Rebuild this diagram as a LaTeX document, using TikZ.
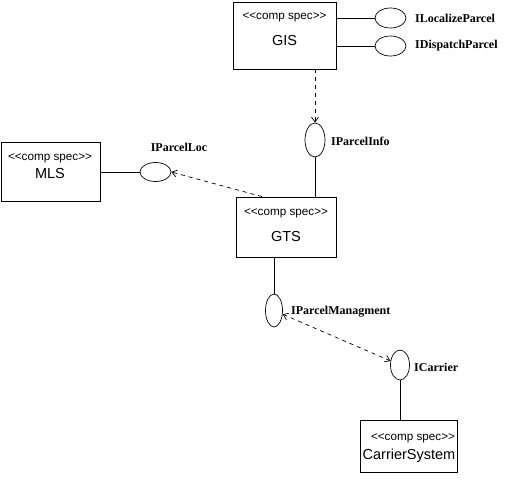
\documentclass[tikz,border=0pt]{standalone}
\usepackage{fontspec}
\setsansfont{Liberation Sans}
\newfontfamily\lblfont{Liberation Serif}
\usetikzlibrary{shapes.geometric,arrows.meta}
\begin{document}
\begin{tikzpicture}[x=1pt,y=-1pt,
  comp/.style={draw,rectangle,inner sep=0pt,line width=0.8pt},
  stereo/.style={font=\sffamily\fontsize{11.7}{13}\selectfont,inner sep=0pt},
  cname/.style={font=\sffamily\fontsize{14.5}{16}\selectfont,inner sep=0pt},
  iface/.style={draw,ellipse,inner sep=0pt,line width=0.7pt},
  ilabel/.style={font=\lblfont\bfseries\fontsize{12}{14}\selectfont,inner sep=0pt},
  conn/.style={line width=0.7pt},
  dep/.style={line width=0.7pt,dash pattern=on 4pt off 4pt,-{Straight Barb[length=5pt,width=7pt]}},
  depboth/.style={line width=0.7pt,dash pattern=on 4pt off 4pt,{Straight Barb[length=5pt,width=7pt]}-{Straight Barb[length=5pt,width=7pt]}}
]
\useasboundingbox (0,0) rectangle (506,482);
% GIS
\node[comp,minimum width=103pt,minimum height=67pt] (GIS) at (284.5,35.5) {};
\node[stereo] (GISs) at (284.5,17) {<{}<comp spec>{}>};
\node[cname] (GISn) at (284.5,41) {GIS};
% GTS
\node[comp,minimum width=100pt,minimum height=60pt] (GTS) at (286,227) {};
\node[stereo] (GTSs) at (286,213) {<{}<comp spec>{}>};
\node[cname] (GTSn) at (286,237) {GTS};
% MLS
\node[comp,minimum width=99pt,minimum height=59pt] (MLS) at (50.5,171.5) {};
\node[stereo] (MLSs) at (50,158) {<{}<comp spec>{}>};
\node[cname] (MLSn) at (50,174) {MLS};
% CarrierSystem
\node[comp,minimum width=97pt,minimum height=52pt] (CS) at (408.5,446) {};
\node[stereo] (CSs) at (413,438) {<{}<comp spec>{}>};
\node[cname] (CSn) at (409,456) {CarrierSystem};
% interfaces
\node[iface,minimum width=31pt,minimum height=20pt] (ILP) at (390.5,18) {};
\node[ilabel,anchor=west] (ILPl) at (415,18) {ILocalizeParcel};
\node[iface,minimum width=31pt,minimum height=20pt] (IDP) at (390.5,46) {};
\node[ilabel,anchor=west] (IDPl) at (415,46) {IDispatchParcel};
\node[iface,minimum width=20pt,minimum height=34pt] (IPI) at (315,140) {};
\node[ilabel,anchor=west] (IPIl) at (331,141) {IParcelInfo};
\node[iface,minimum width=31pt,minimum height=19pt] (IPL) at (155.5,172) {};
\node[ilabel] (IPLl) at (179,147) {IParcelLoc};
\node[iface,minimum width=17pt,minimum height=33pt] (IPM) at (274,310.5) {};
\node[ilabel,anchor=west] (IPMl) at (291,312) {IParcelManagment};
\node[iface,minimum width=19pt,minimum height=30pt] (IC) at (400,365) {};
\node[ilabel,anchor=west] (ICl) at (414,367) {ICarrier};
% connectors
\draw[conn] (ILP.west) -- (ILP.west -| GIS.east);
\draw[conn] (IDP.west) -- (IDP.west -| GIS.east);
\draw[dep] (GIS.south -| IPI.north) -- (IPI.north);
\draw[conn] (IPI.south) -- (IPI.south |- GTS.north);
\coordinate (GTSa) at ([xshift=-24pt]GTS.north);
\draw[dep] (GTSa) -- (IPL.east);
\draw[conn] (MLS.east |- IPL.west) -- (IPL.west);
\draw[conn] (GTS.south -| IPM.north) -- (IPM.north);
\draw[depboth] (IPM) -- (IC);
\draw[conn] (IC.south) -- (IC.south |- CS.north);
\end{tikzpicture}
\end{document}
